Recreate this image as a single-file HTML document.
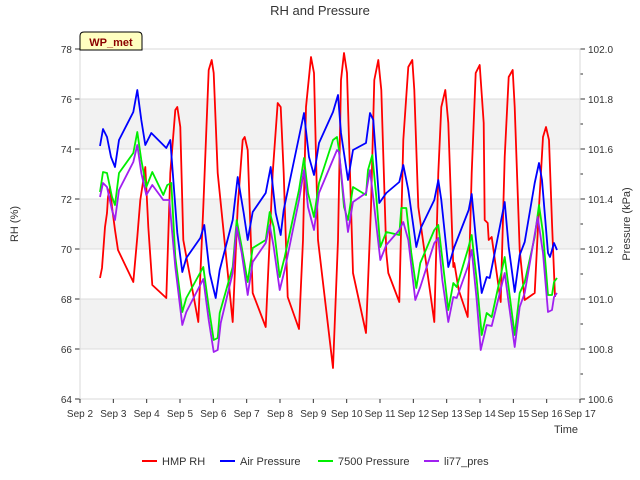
<!DOCTYPE html>
<html><head><meta charset="utf-8"><style>
body{margin:0;background:#fff;}
svg{display:block;font-family:"Liberation Sans","DejaVu Sans",sans-serif;}
</style></head><body>
<svg id="chart" width="640" height="480" viewBox="0 0 640 480">
<text x="320" y="15" text-anchor="middle" font-size="13" fill="#333">RH and Pressure</text>
<g id="bands"></g><g id="axes"></g><g id="series"></g>
<text transform="translate(18,224) rotate(-90)" text-anchor="middle" font-size="11" fill="#333">RH (%)</text>
<text transform="translate(630,224) rotate(-90)" text-anchor="middle" font-size="11" fill="#333">Pressure (kPa)</text>
<text x="578" y="433" text-anchor="end" font-size="11" fill="#333">Time</text>
<g><path d="M80,50 L80,36 Q80,32 84,32 L138,32 Q142,32 142,36 L142,50 Z" fill="#ffffc0" stroke="#000" stroke-width="1"/><text x="111" y="46" text-anchor="middle" font-size="11" font-weight="bold" fill="#8b0000">WP_met</text></g>
<g id="legend"></g>
</svg>
<script>
const rhDays=[2.60,2.66,2.75,2.81,2.84,2.90,2.96,3.05,3.14,3.60,3.72,3.81,3.96,4.05,4.17,4.59,4.71,4.86,4.92,5.01,5.10,5.55,5.70,5.86,5.95,6.01,6.13,6.58,6.73,6.88,6.94,7.03,7.18,7.57,7.78,7.93,8.02,8.11,8.23,8.57,8.69,8.78,8.93,9.02,9.14,9.59,9.74,9.83,9.92,10.01,10.19,10.58,10.73,10.83,10.95,11.04,11.19,11.25,11.58,11.70,11.85,11.97,12.03,12.15,12.63,12.75,12.84,12.96,13.05,13.20,13.23,13.36,13.63,13.75,13.87,13.99,14.11,14.14,14.23,14.26,14.35,14.62,14.74,14.86,14.98,15.04,15.19,15.34,15.64,15.77,15.89,15.98,16.07,16.16,16.25];
const rhValues=[68.84,69.24,70.88,71.44,72.08,72.48,71.68,70.76,69.96,68.68,70.48,71.96,73.28,70.88,68.56,68.04,73.04,75.56,75.68,74.88,70.36,67.08,71.68,77.16,77.56,77.04,73.04,67.08,71.68,74.36,74.48,73.96,68.24,66.88,73.04,75.84,75.68,73.04,68.08,66.80,70.36,75.68,77.68,77.04,70.36,65.24,70.36,76.76,77.84,77.04,69.04,66.64,71.68,76.76,77.56,76.36,69.84,69.04,67.88,74.36,77.28,77.56,76.36,71.68,67.08,73.04,75.68,76.36,75.04,69.28,69.44,68.36,67.28,73.04,77.04,77.36,75.04,71.16,71.04,70.36,70.48,67.88,73.68,76.88,77.16,75.68,69.96,67.96,68.24,71.68,74.48,74.88,74.36,71.04,68.08];
const airDays=[2.60,2.69,2.81,2.93,3.05,3.17,3.60,3.72,3.84,3.96,4.14,4.59,4.71,4.92,5.07,5.19,5.61,5.73,5.89,6.07,6.19,6.58,6.73,6.91,7.03,7.18,7.57,7.72,7.87,8.02,8.11,8.57,8.72,8.87,9.02,9.17,9.59,9.74,9.83,10.04,10.19,10.58,10.70,10.80,10.98,11.19,11.58,11.70,11.85,12.09,12.24,12.63,12.75,12.84,13.05,13.23,13.66,13.75,13.87,14.05,14.20,14.29,14.44,14.74,14.86,15.04,15.19,15.34,15.64,15.77,15.86,16.04,16.10,16.22,16.31];
const airValues=[101.612,101.68,101.648,101.568,101.528,101.636,101.748,101.836,101.716,101.616,101.664,101.604,101.636,101.264,101.108,101.164,101.244,101.296,101.104,101.004,101.116,101.316,101.488,101.344,101.236,101.348,101.424,101.528,101.344,101.256,101.356,101.648,101.744,101.568,101.496,101.624,101.748,101.816,101.664,101.476,101.596,101.624,101.744,101.716,101.384,101.424,101.468,101.536,101.436,101.208,101.288,101.396,101.476,101.396,101.128,101.208,101.356,101.42,101.248,101.024,101.088,101.084,101.184,101.388,101.208,101.028,101.176,101.228,101.464,101.544,101.476,101.184,101.168,101.224,101.196];
const p7500Days=[2.60,2.69,2.81,2.96,3.05,3.17,3.60,3.72,3.84,3.99,4.17,4.50,4.62,4.74,4.86,5.07,5.19,5.70,5.86,6.01,6.13,6.19,6.58,6.70,6.85,7.03,7.18,7.57,7.69,7.81,7.99,8.14,8.57,8.72,8.84,9.02,9.17,9.59,9.71,9.77,9.92,10.04,10.19,10.58,10.64,10.77,10.89,11.01,11.19,11.58,11.64,11.79,11.94,12.09,12.21,12.63,12.75,12.90,13.05,13.20,13.30,13.63,13.75,13.90,14.05,14.20,14.35,14.74,14.86,15.04,15.19,15.34,15.64,15.77,15.89,16.04,16.16,16.22,16.31];
const p7500Values=[101.428,101.508,101.504,101.408,101.376,101.504,101.584,101.668,101.556,101.448,101.508,101.416,101.456,101.464,101.168,100.948,101.004,101.128,100.968,100.836,100.844,100.944,101.128,101.316,101.208,101.068,101.204,101.236,101.348,101.288,101.088,101.168,101.436,101.564,101.424,101.328,101.464,101.636,101.648,101.596,101.368,101.316,101.448,101.416,101.516,101.576,101.408,101.208,101.268,101.256,101.364,101.364,101.184,101.044,101.144,101.276,101.296,101.128,100.956,101.064,101.048,101.196,101.256,101.076,100.856,100.944,100.928,101.168,101.044,100.856,101.024,101.068,101.248,101.376,101.264,101.016,101.016,101.068,101.084];
const li77Days=[2.60,2.69,2.81,2.96,3.05,3.17,3.60,3.72,3.84,3.99,4.17,4.50,4.68,4.86,5.07,5.19,5.70,5.86,6.01,6.13,6.22,6.58,6.70,6.85,7.03,7.18,7.57,7.69,7.81,7.99,8.14,8.57,8.72,8.84,9.02,9.17,9.71,9.77,9.92,10.04,10.19,10.58,10.70,10.83,11.01,11.19,11.58,11.70,11.85,12.06,12.21,12.63,12.75,12.87,13.05,13.20,13.30,13.63,13.75,13.90,14.02,14.20,14.35,14.74,14.86,15.04,15.19,15.34,15.73,15.89,16.04,16.16,16.22,16.31];
const li77Values=[101.408,101.464,101.448,101.356,101.316,101.436,101.548,101.616,101.504,101.416,101.456,101.396,101.396,101.128,100.896,100.948,101.08,100.916,100.788,100.796,100.904,101.104,101.288,101.184,101.016,101.148,101.224,101.296,101.208,101.036,101.116,101.396,101.516,101.368,101.276,101.424,101.596,101.588,101.396,101.268,101.388,101.424,101.516,101.368,101.156,101.216,101.276,101.308,101.236,100.996,101.048,101.224,101.244,101.076,100.908,101.008,101.004,101.128,101.196,100.996,100.796,100.896,100.892,101.104,100.984,100.808,100.968,101.024,101.328,101.184,100.948,100.956,101.008,101.024];
const xTickDays=[2,3,4,5,6,7,8,9,10,11,12,13,14,15,16,17];
const rhTicks=[64,66,68,70,72,74,76,78];
const pTicks=[100.6,100.8,101.0,101.2,101.4,101.6,101.8,102.0];
const legendNames=["HMP RH","Air Pressure","7500 Pressure","li77_pres"];
const legendColors=["#ff0000","#0000ff","#00ee00","#a020f0"];

const L=80,R=580,T=49,B=399,NS="http://www.w3.org/2000/svg";
const xS=d=>L+(d-2)/(17-2)*(R-L);
const yRH=v=>B-(v-64)/(78-64)*(B-T);
const yP=v=>B-(v-100.6)/(102-100.6)*(B-T);
function mk(tag,attrs,parent){const e=document.createElementNS(NS,tag);for(const k in attrs)e.setAttribute(k,attrs[k]);parent.appendChild(e);return e;}
const bands=document.getElementById('bands'),axes=document.getElementById('axes'),series=document.getElementById('series'),legend=document.getElementById('legend');
mk('rect',{x:L,y:T,width:R-L,height:B-T,fill:'#fff'},bands);
[[66,68],[70,72],[74,76]].forEach(b=>{const r=mk('rect',{x:L,y:yRH(b[1]),width:R-L,height:yRH(b[0])-yRH(b[1]),fill:'#f2f2f2'},bands);

});
rhTicks.forEach(v=>{mk('line',{x1:L,x2:R,y1:yRH(v),y2:yRH(v),stroke:'#dcdcdc','stroke-width':1},bands);
mk('line',{x1:L-5,x2:L,y1:yRH(v),y2:yRH(v),stroke:'#333'},axes);
const t=mk('text',{x:L-8,y:yRH(v)+4,'text-anchor':'end','font-size':10,fill:'#333'},axes);t.textContent=v;

});
for(let i=0;i<=14;i++){const v=100.6+i*0.1;mk('line',{x1:R,x2:R+(i%2?3:5),y1:yP(v),y2:yP(v),stroke:'#333'},axes);}
pTicks.forEach(v=>{const t=mk('text',{x:R+8,y:yP(v)+4,'font-size':10,fill:'#333'},axes);t.textContent=v.toFixed(1);

});
mk('rect',{x:L,y:T,width:R-L,height:B-T,fill:'none',stroke:'#d8d8d8'},axes);
xTickDays.forEach(d=>{mk('line',{x1:xS(d),x2:xS(d),y1:B,y2:B+4,stroke:'#333'},axes);
const t=mk('text',{x:xS(d),y:B+18,'text-anchor':'middle','font-size':10,fill:'#333'},axes);t.textContent='Sep '+d;

});
function line(days,vals,yf,color,name){const pts=days.map((d,i)=>xS(d).toFixed(1)+','+yf(vals[i]).toFixed(1)).join(' ');
const p=mk('polyline',{points:pts,fill:'none',stroke:color,'stroke-width':1.8,'stroke-linejoin':'round'},series);

}
line(rhDays,rhValues,yRH,legendColors[0],'hmp-rh-line');
line(airDays,airValues,yP,legendColors[1],'air-pressure-line');
line(p7500Days,p7500Values,yP,legendColors[2],'7500-pressure-line');
line(li77Days,li77Values,yP,legendColors[3],'li77-pres-line');
const lx=[142,220,318,424];
legendNames.forEach((n,i)=>{const g=mk('g',{},legend);


mk('line',{x1:lx[i],x2:lx[i]+15,y1:461,y2:461,stroke:legendColors[i],'stroke-width':2},g);
const t=mk('text',{x:lx[i]+20,y:465,'font-size':11,fill:'#333'},g);t.textContent=n;});
</script>
</body></html>
